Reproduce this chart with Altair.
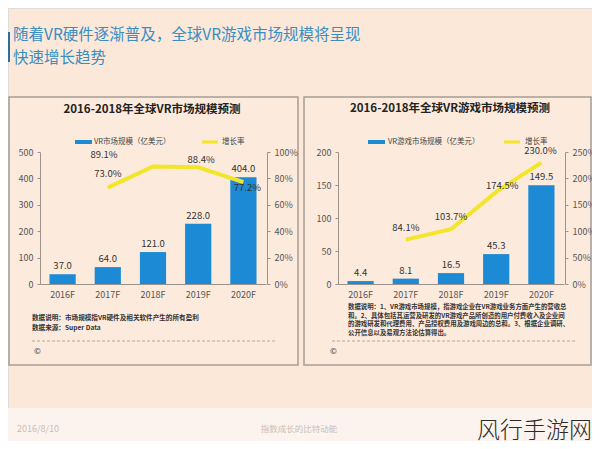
import altair as alt
import pandas as pd

# ---------------- data ----------------
years = ["2016F", "2017F", "2018F", "2019F", "2020F"]
vr_market = [37.0, 64.0, 121.0, 228.0, 404.0]
vr_growth = [None, 73.0, 89.1, 88.4, 77.2]
game_market = [4.4, 8.1, 16.5, 45.3, 149.5]
game_growth = [None, 84.1, 103.7, 174.5, 230.0]

left_axis_vr = [0, 100, 200, 300, 400, 500]
right_axis_vr = [0, 20, 40, 60, 80, 100]
left_axis_game = [0, 50, 100, 150, 200]
right_axis_game = [0, 50, 100, 150, 200, 250]

slide_title = ["随着VR硬件逐渐普及，全球VR游戏市场规模将呈现", "快速增长趋势"]
title_left = "2016-2018年全球VR市场规模预测"
title_right = "2016-2018年全球VR游戏市场规模预测"
legend_left = "VR市场规模（亿美元）"
legend_right = "VR游戏市场规模（亿美元）"
legend_growth = "增长率"
notes_left = ["数据说明：市场规模指VR硬件及相关软件产生的所有盈利", "数据来源：Super Data"]
notes_right = [
    "数据说明：1、VR游戏市场规模，指游戏企业在VR游戏业务方面产生的营收总",
    "和。2、具体包括其运营及研发的VR游戏产品所创造的用户付费收入及企业间",
    "的游戏研发和代理费用、产品授权费用及游戏周边的总和。3、根据企业调研、",
    "公开信息以及易观方法论估算得出。",
]
footer_date = "2016/8/10"
footer_mid = "指数成长的比特动能"
watermark = "风行手游网"

vr_df = pd.DataFrame({"year": years, "market": vr_market, "growth": vr_growth})
game_df = pd.DataFrame({"year": years, "market": game_market, "growth": game_growth})

# ---------------- style ----------------
W, H = 584, 433
FONT = "Noto Sans CJK SC"
BG = "#FBE8D9"
BLUE = "#1C8AD4"
YELLOW = "#F3E52A"
AXC = "#9A928B"
LABC = "#555555"
one = pd.DataFrame({"a": [0]})


def txt(s, x, y, size=9, color="#333", weight="normal", align="left", baseline="middle", font=FONT):
    return alt.Chart(one).mark_text(
        text=s, fontSize=size, color=color, fontWeight=weight, align=align,
        baseline=baseline, font=font
    ).encode(x=alt.value(x), y=alt.value(y))


def rect(x, x2, y, y2, fill, stroke=None, sw=0):
    kw = dict(fill=fill)
    if stroke:
        kw.update(stroke=stroke, strokeWidth=sw)
    return alt.Chart(one).mark_rect(**kw).encode(
        x=alt.value(x), x2=alt.value(x2), y=alt.value(y), y2=alt.value(y2))


def hrule(x, x2, y, color, sw=1, dash=None):
    kw = dict(color=color, strokeWidth=sw)
    if dash:
        kw["strokeDash"] = dash
    return alt.Chart(one).mark_rule(**kw).encode(
        x=alt.value(x), x2=alt.value(x2), y=alt.value(y))


def panel(df, x0, x1, ymax_left, ymax_right, lvals, rvals, growth_labels):
    xs = alt.Scale(type="band", domain=years, range=[x0, x1], paddingInner=0.42, paddingOuter=0.21)
    ysl = alt.Scale(domain=[0, ymax_left], range=[276, 144], nice=False, zero=True)
    ysr = alt.Scale(domain=[0, ymax_right], range=[276, 144], nice=False, zero=True)

    def X(axis=None):
        return alt.X("year:N", scale=xs, axis=axis, title=None)

    bars = alt.Chart(df).mark_bar(color=BLUE).encode(
        x=X(alt.Axis(orient="bottom", offset=-(H - 276), domainColor=AXC, ticks=False,
                     labelColor=LABC, labelFontSize=9, labelPadding=6, labelAngle=0,
                     grid=False, labelFont=FONT, zindex=1)),
        y=alt.Y("market:Q", scale=ysl, title=None,
                axis=alt.Axis(orient="left", offset=-x0, values=lvals, domainColor=AXC,
                              tickColor=AXC, tickSize=3, labelColor=LABC, labelFontSize=9,
                              labelPadding=4, grid=False, labelFont=FONT, zindex=1)),
    )
    bar_lbl = alt.Chart(df).mark_text(dy=-8, fontSize=9.5, color="#333", font=FONT).encode(
        x=X(), y=alt.Y("market:Q", scale=ysl, axis=None),
        text=alt.Text("market:Q", format=".1f"))
    gdf = df.dropna()
    line = alt.Chart(gdf).mark_line(color=YELLOW, strokeWidth=4).encode(
        x=X(),
        y=alt.Y("growth:Q", scale=ysr, title=None,
                axis=alt.Axis(orient="right", offset=-(W - (x1 + 1)), values=rvals,
                              labelExpr="datum.value + '%'", domainColor=AXC, tickColor=AXC,
                              tickSize=3, labelColor=LABC, labelFontSize=9, labelPadding=4,
                              grid=False, labelFont=FONT, zindex=1)),
    )
    layers = [bars, bar_lbl, line]
    for yr, dx, dy in growth_labels:
        layers.append(
            alt.Chart(gdf).transform_filter(alt.datum.year == yr)
            .transform_calculate(glabel="format(datum.growth, '.1f') + '%'")
            .mark_text(dx=dx, dy=dy, fontSize=9.5, color="#333", font=FONT)
            .encode(x=X(), y=alt.Y("growth:Q", scale=ysr, axis=None),
                    text=alt.Text("glabel:N"))
        )
    return layers


deco = []
# slide title
deco.append(rect(0, 2, 24, 54, "#2C6E9E"))
deco.append(txt(slide_title[0], 5, 27, size=15.5, color="#3A8EC2"))
deco.append(txt(slide_title[1], 5, 50, size=15.5, color="#3A8EC2"))
# panels
deco.append(rect(1, 290, 89, 357, "#FCEADC", stroke="#A59D95", sw=1.5))
deco.append(rect(296, 583, 89, 357, "#FCEADC", stroke="#A59D95", sw=1.5))
# panel titles
deco.append(txt(title_left, 144, 102, size=11.5, color="#222", weight="bold", align="center"))
deco.append(txt(title_right, 442, 101, size=11.5, color="#222", weight="bold", align="center"))
# legends
deco.append(rect(67, 84, 132, 136, BLUE))
deco.append(txt(legend_left, 86, 134, size=7.5, color="#444"))
deco.append(hrule(194, 210, 134, YELLOW, sw=3))
deco.append(txt(legend_growth, 214, 134, size=7.5, color="#444"))
deco.append(rect(360, 377, 132, 136, BLUE))
deco.append(txt(legend_right, 380, 134, size=7.5, color="#444"))
deco.append(hrule(496, 512, 134, YELLOW, sw=3))
deco.append(txt(legend_growth, 517, 134, size=7.5, color="#444"))
# notes
for i, s in enumerate(notes_left):
    deco.append(txt(s, 24, 310 + 10 * i, size=6.6, color="#333", weight="bold"))
for i, s in enumerate(notes_right):
    deco.append(txt(s, 340, 299 + 8.6 * i, size=6.4, color="#333", weight="bold"))
deco.append(hrule(24, 269, 333, "#B0A8A0", sw=1, dash=[3, 2]))
deco.append(hrule(324, 569, 333, "#B0A8A0", sw=1, dash=[3, 2]))
deco.append(txt("©", 26, 344, size=8, color="#666", weight="bold"))
deco.append(txt("©", 322, 344, size=8, color="#666", weight="bold"))
# footer
deco.append(rect(0, W, 400, H, "#FDF3EE"))
deco.append(txt(footer_date, 9, 421, size=9, color="#C9C0B8"))
deco.append(txt(footer_mid, 291, 421, size=8.5, color="#C9C0B8", align="center"))
deco.append(txt(watermark, 584, 423, size=23, color="#2A2A2A", align="right", weight=300))

left_layers = panel(vr_df, 32, 258, 500, 100, left_axis_vr, right_axis_vr,
                    [("2017F", 0, -14), ("2018F", -49, -11), ("2019F", 3, -7), ("2020F", 4, 6)])
right_layers = panel(game_df, 330, 556, 200, 250, left_axis_game, right_axis_game,
                     [("2017F", 0, -12), ("2018F", 0, -12), ("2019F", 6, -6), ("2020F", -1, -12)])

chart = alt.layer(*deco, *left_layers, *right_layers).resolve_scale(
    x="independent", y="independent"
).properties(
    width=W, height=H, background=BG, padding=0, autosize=alt.AutoSizeParams(type="none")
).configure_view(stroke=None).configure(font=FONT)

chart.save("out.html", embed_options={"renderer": "svg", "actions": False})
